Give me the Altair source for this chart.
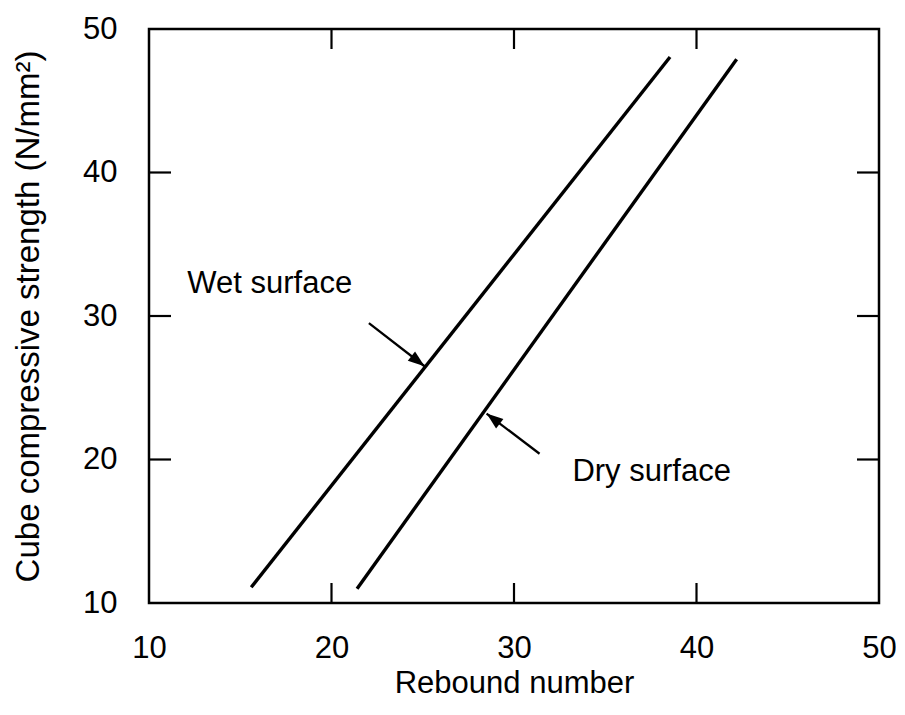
import altair as alt
import pandas as pd

# ---- data ----
axis_ticks = [10, 20, 30, 40, 50]
inner_ticks = [20, 30, 40]

series = ["Wet surface", "Wet surface", "Dry surface", "Dry surface"]
rebound = [15.6, 38.55, 21.4, 42.2]
strength = [11.1, 48.05, 11.0, 47.9]

label_text = ["Wet surface", "Dry surface"]
label_x = [12.1, 33.2]
label_y = [32.2, 19.1]

arrow_x1 = [22.05, 31.4]
arrow_y1 = [29.5, 20.4]
arrow_x2 = [25.1, 28.5]
arrow_y2 = [26.5, 23.2]
arrow_angle = [127.5, 307.7]

FONT = "Liberation Sans"
W, H = 730, 574

lines_df = pd.DataFrame({"series": series, "rebound": rebound, "strength": strength})
labels_df = pd.DataFrame({"text": label_text, "x": label_x, "y": label_y})
arrows_df = pd.DataFrame({"x1": arrow_x1, "y1": arrow_y1, "x2": arrow_x2, "y2": arrow_y2,
                          "angle": arrow_angle})
ticks_df = pd.DataFrame({"t": inner_ticks})

xs = alt.Scale(domain=[10, 50], nice=False, zero=False)
ys = alt.Scale(domain=[10, 50], nice=False, zero=False)

xaxis = alt.Axis(values=axis_ticks, ticks=False, domain=False, grid=False,
                 labelFontSize=31, labelPadding=30, labelFlush=False, labelFont=FONT,
                 labelColor="black",
                 title="Rebound number", titleFontSize=31, titleFontWeight="normal",
                 titleFont=FONT, titleColor="black", titleY=80, titleBaseline="middle")
yaxis = alt.Axis(values=axis_ticks, ticks=False, domain=False, grid=False,
                 labelFontSize=31, labelPadding=32, labelFlush=False, labelFont=FONT,
                 labelColor="black",
                 title="Cube compressive strength (N/mm²)", titleFontSize=33,
                 titleFontWeight="normal", titleFont=FONT, titleColor="black",
                 titleX=-121, titleY=H / 2, titleBaseline="middle", titleAlign="center",
                 titleAngle=270)


def X(f):
    return alt.X(f, type="quantitative", scale=xs, axis=xaxis)


def Y(f):
    return alt.Y(f, type="quantitative", scale=ys, axis=yaxis)


lines = alt.Chart(lines_df).mark_line(color="black", strokeWidth=3.4).encode(
    x=X("rebound"), y=Y("strength"), detail="series:N")

labels = alt.Chart(labels_df).mark_text(align="left", baseline="middle", fontSize=31,
                                        font=FONT, color="black").encode(
    x=X("x"), y=Y("y"), text="text:N")

shafts = alt.Chart(arrows_df).mark_rule(color="black", strokeWidth=2.3).encode(
    x=X("x1"), y=Y("y1"), x2="x2", y2="y2")

heads = alt.Chart(arrows_df).mark_point(shape="M0,0L-0.36,1L0.36,1Z", filled=True,
                                        color="black", opacity=1, size=1100).encode(
    x=X("x2"), y=Y("y2"), angle=alt.Angle("angle:Q", scale=None))

xt_bottom = alt.Chart(ticks_df).mark_rule(color="black", strokeWidth=2.2).encode(
    x=X("t"), y=alt.value(H), y2=alt.value(H - 20))
xt_top = alt.Chart(ticks_df).mark_rule(color="black", strokeWidth=2.2).encode(
    x=X("t"), y=alt.value(0), y2=alt.value(20))
yt_left = alt.Chart(ticks_df).mark_rule(color="black", strokeWidth=2.2).encode(
    y=Y("t"), x=alt.value(0), x2=alt.value(22))
yt_right = alt.Chart(ticks_df).mark_rule(color="black", strokeWidth=2.2).encode(
    y=Y("t"), x=alt.value(W), x2=alt.value(W - 22))

chart = alt.layer(lines, labels, shafts, heads, xt_bottom, xt_top, yt_left, yt_right).properties(
    width=W, height=H,
    background="white",
    autosize=alt.AutoSizeParams(type="none"),
    padding={"left": 141, "top": 21, "right": 17, "bottom": 100},
).configure_view(stroke="black", strokeWidth=2.5)

chart.save("out.html", embed_options={"renderer": "svg", "actions": False})
